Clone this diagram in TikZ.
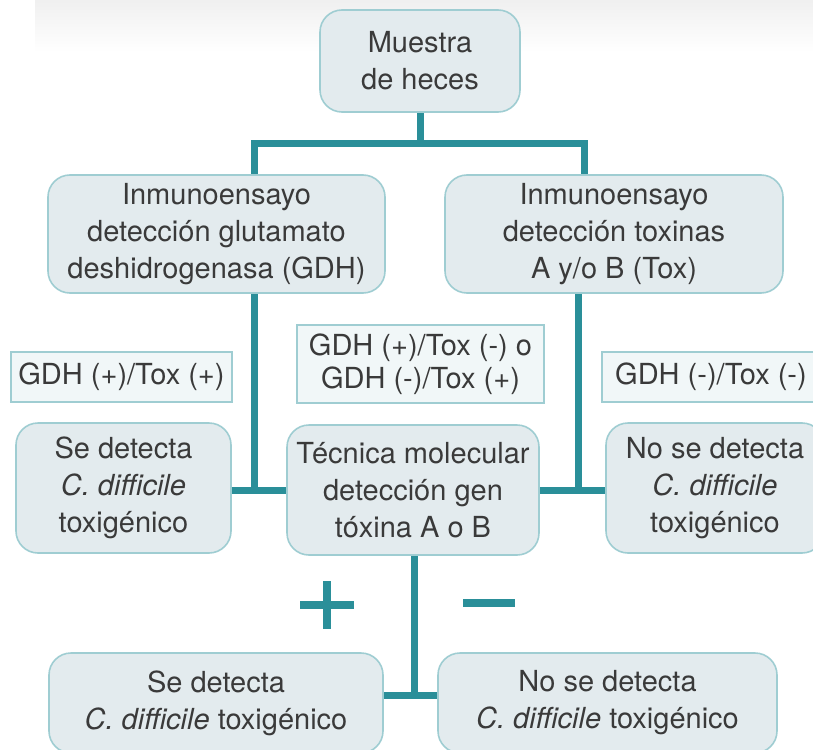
\documentclass[tikz,border=0pt]{standalone}
\usepackage{fontspec}
\setmainfont{TeX Gyre Heros}
\usetikzlibrary{shadings}
\definecolor{boxfill}{HTML}{E3EBEE}
\definecolor{boxline}{HTML}{9FCDD2}
\definecolor{linkcol}{HTML}{2A8F99}
\definecolor{lblfill}{HTML}{F1F7F8}
\definecolor{txtcol}{HTML}{3A3A3A}
\tikzset{
  stage/.style={draw=boxline,line width=0.8pt,fill=boxfill,rounded corners=11pt,align=center,text=txtcol,inner sep=2pt,
    font=\fontsize{14.5}{18.5}\selectfont},
  result/.style={draw=boxline,line width=0.7pt,fill=lblfill,align=center,text=txtcol,inner sep=2pt,
    font=\fontsize{14.5}{16.5}\selectfont},
  link/.style={draw=linkcol,line width=3.5pt,line join=miter},
  sign/.style={draw=linkcol,line width=4pt}
}
\begin{document}
\begin{tikzpicture}[x=0.5pt,y=-0.5pt]
  \clip (0,0) rectangle (813,749);
  \shade[top color=gray!12,bottom color=white] (35,0) rectangle (813,52);
  % boxes
  \node[stage,minimum width=100pt,minimum height=51pt] (muestra) at (420,61) {Muestra\\de heces};
  \node[stage,minimum width=168.5pt,minimum height=59pt] (gdh) at (216.5,234) {Inmunoensayo\\detección glutamato\\deshidrogenasa (GDH)};
  \node[stage,minimum width=169pt,minimum height=59pt] (tox) at (614,234) {Inmunoensayo\\detección toxinas\\A y/o B (Tox)};
  \node[result,minimum width=110.5pt,minimum height=25pt] (respos) at (121.5,377) {GDH (+)/Tox (+)};
  \node[result,minimum width=123.5pt,minimum height=39pt] (resmix) at (420.5,364) {GDH (+)/Tox (-) o\\GDH (-)/Tox (+)};
  \node[result,minimum width=109pt,minimum height=25pt] (resneg) at (711,377) {GDH (-)/Tox (-)};
  \node[stage,minimum width=107.5pt,minimum height=65pt] (sedet) at (123.5,488) {Se detecta\\\textit{C. difficile}\\toxigénico};
  \node[stage,minimum width=126pt,minimum height=65pt] (pcr) at (413,490) {Técnica molecular\\detección gen\\tóxina A o B};
  \node[stage,minimum width=109pt,minimum height=65pt] (nosedet) at (715,488) {No se detecta\\\textit{C. difficile}\\toxigénico};
  \node[stage,minimum width=167pt,minimum height=50pt] (finpos) at (216,703) {Se detecta\\\textit{C. difficile} toxigénico};
  \node[stage,minimum width=169.5pt,minimum height=50pt] (finneg) at (607.5,703) {No se detecta\\\textit{C. difficile} toxigénico};
  % connectors
  \coordinate (jtop) at (420,143);
  \coordinate (jl) at (254,143);
  \coordinate (jr) at (584,143);
  \coordinate (jml) at (254,490);
  \coordinate (jmr) at (578,490);
  \coordinate (jb) at (414,695);
  \draw[link] (muestra.south) -- (jtop);
  \draw[link] (gdh.north -| jl) |- (jr) -- (tox.north -| jr);
  \draw[link] (gdh.south -| jml) -- (jml);
  \draw[link] (sedet.east |- jml) -- (pcr.west |- jml);
  \draw[link] (tox.south -| jmr) -- (jmr);
  \draw[link] (pcr.east |- jmr) -- (nosedet.west |- jmr);
  \draw[link] (pcr.south -| jb) -- (jb);
  \draw[link] (finpos.east |- jb) -- (finneg.west |- jb);
  % signs
  \draw[sign] (327,605) +(-27,0) -- +(27,0) +(0,-24) -- +(0,24);
  \draw[sign] (489,603) +(-26,0) -- +(26,0);
\end{tikzpicture}
\end{document}
